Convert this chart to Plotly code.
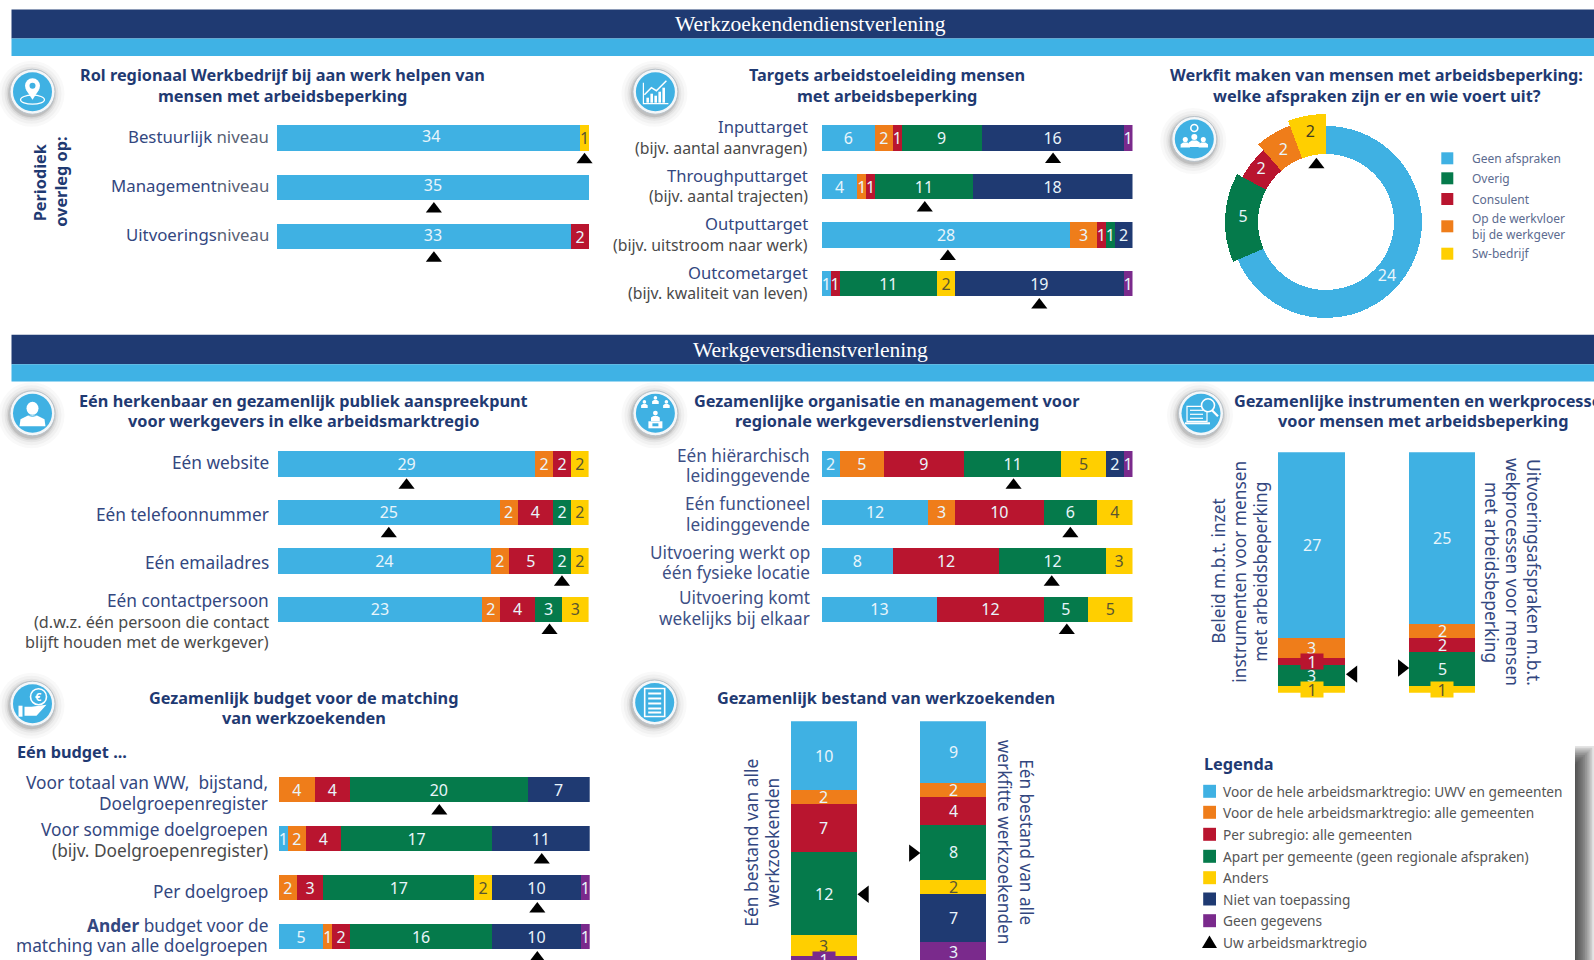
import plotly.graph_objects as go

W, H = 1594, 960
FONT = "Noto Sans"
NAVY = "#1f3a72"
SLATE = "#33477f"
GRAY = "#4a4a4a"
COLORS = {"blue": "#3fb1e3", "orange": "#ef7d1a", "red": "#b9152f", "green": "#057a4b",
          "yellow": "#ffcf00", "navy": "#1f3a72", "purple": "#7a2a8c"}
NUM_LIGHT = "#e9f5fb"
NUM_DARK = "#5a5630"
TITLE_SIZE = 16.3

# ---------- data ----------
a_categories = ["<span style='color:#33477f'>Bestuurlijk</span> niveau",
                "<span style='color:#33477f'>Management</span>niveau",
                "<span style='color:#33477f'>Uitvoerings</span>niveau"]
a_blue = [34, 35, 33]
a_red = [0, 0, 2]
a_yellow = [1, 0, 0]
a_marker = [34.5, 17.6, 17.6]
a_blue_label_x = [17.3, 17.5, 17.5]

b_categories = ["Inputtarget<br>(bijv. aantal aanvragen)", "Throughputtarget<br>(bijv. aantal trajecten)",
                "Outputtarget<br>(bijv. uitstroom naar werk)", "Outcometarget<br>(bijv. kwaliteit van leven)"]
b_blue = [6, 4, 28, 1]
b_orange = [2, 1, 3, 0]
b_red = [1, 1, 1, 1]
b_green = [9, 11, 1, 11]
b_yellow = [0, 0, 0, 2]
b_navy = [16, 18, 2, 19]
b_purple = [1, 0, 0, 1]
b_marker = [26.05, 11.6, 14.2, 24.5]

c_labels = ["Geen afspraken", "Overig", "Consulent", "Op de werkvloer<br>bij de werkgever", "Sw-bedrijf"]
c_values = [24, 5, 2, 2, 2]
c_colors = ["blue", "green", "red", "orange", "yellow"]
c_outer_radius = [96, 101, 95, 103, 108]
c_label_radius = [82, 83, 83, 83, 90]
c_label_theta = [132, 272.6, 308.6, 329, 350]
c_marker_theta = 350.5
c_marker_radius = 58

d_categories = ["Eén website", "Eén telefoonnummer", "Eén emailadres",
                "Eén contactpersoon<br>(d.w.z. één persoon die contact<br>blijft houden met de werkgever)"]
d_blue = [29, 25, 24, 23]
d_orange = [2, 2, 2, 2]
d_red = [2, 4, 5, 4]
d_green = [0, 2, 2, 3]
d_yellow = [2, 2, 2, 3]
d_marker = [14.5, 12.5, 32, 30.6]

e_categories = ["Eén hiërarchisch<br>leidinggevende", "Eén functioneel<br>leidinggevende",
                "Uitvoering werkt op<br>één fysieke locatie", "Uitvoering komt<br>wekelijks bij elkaar"]
e_blue = [2, 12, 8, 13]
e_orange = [5, 3, 0, 0]
e_red = [9, 10, 12, 12]
e_green = [11, 6, 12, 5]
e_yellow = [5, 4, 3, 5]
e_navy = [2, 0, 0, 0]
e_purple = [1, 0, 0, 0]
e_marker = [21.6, 28, 25.9, 27.6]

f_blue = [27, 25]
f_orange = [3, 2]
f_red = [1, 2]
f_green = [3, 5]
f_yellow = [1, 1]
f_marker = [32.3, 31.4]

g_categories = ["Voor totaal van WW,  bijstand,<br>Doelgroepenregister",
                "Voor sommige doelgroepen<br>(bijv. Doelgroepenregister)",
                "Per doelgroep",
                "<b>Ander</b> budget voor de<br>matching van alle doelgroepen"]
g_blue = [0, 1, 0, 5]
g_orange = [4, 2, 2, 1]
g_red = [4, 4, 3, 2]
g_green = [20, 17, 17, 16]
g_yellow = [0, 0, 2, 0]
g_navy = [7, 11, 10, 10]
g_purple = [0, 0, 1, 1]
g_marker = [18.06, 29.6, 29.1, 29.1]

h_blue = [10, 9]
h_orange = [2, 2]
h_red = [7, 4]
h_green = [12, 8]
h_yellow = [3, 2]
h_navy = [0, 7]
h_purple = [1, 3]
h_marker = [25.07, 19.1]

legend_labels = ["Voor de hele arbeidsmarktregio: UWV en gemeenten", "Voor de hele arbeidsmarktregio: alle gemeenten",
                 "Per subregio: alle gemeenten", "Apart per gemeente (geen regionale afspraken)", "Anders",
                 "Niet van toepassing", "Geen gegevens"]
legend_colors = ["blue", "orange", "red", "green", "yellow", "navy", "purple"]

fig = go.Figure()
shapes, annotations = [], []
axis_no = [0]


def px(x):
    return x / W


def py(y):
    return 1 - y / H


def note(x, y, text, size=16, color=NAVY, anchor="center", angle=0, bold=False, family=FONT):
    annotations.append(dict(x=px(x), y=py(y), xref="paper", yref="paper", text=f"<b>{text}</b>" if bold else text,
                            showarrow=False, xanchor=anchor, yanchor="middle", textangle=angle,
                            font=dict(family=family, size=size, color=color), borderpad=0))


def multiline(x, y, text, gap, size=16, color=NAVY, anchor="center", bold=False, rest_color=None, rest_size=None):
    lines = text.split("<br>")
    for i, line in enumerate(lines):
        c = color if i == 0 or rest_color is None else rest_color
        s = size if i == 0 or rest_size is None else rest_size
        note(x, y + (i - (len(lines) - 1) / 2) * gap, line, s, c, anchor, 0, bold)


def rotated(x, y, text, gap, angle, size=16, color=SLATE, bold=False):
    lines = text.split("<br>")
    sign = 1 if angle < 0 else -1
    for i, line in enumerate(lines):
        note(x + sign * (i - (len(lines) - 1) / 2) * gap, y, line, size, color, "center", angle, bold)


def rect(x0, y0, x1, y1, color, layer="below"):
    shapes.append(dict(type="rect", xref="paper", yref="paper", x0=px(x0), x1=px(x1), y0=py(y1), y1=py(y0),
                       fillcolor=color, line=dict(width=0), layer=layer))


def ellipse(cx, cy, rx, ry, fill=None, line=None, lw=1.5):
    shapes.append(dict(type="circle", xref="paper", yref="paper", x0=px(cx - rx), x1=px(cx + rx),
                       y0=py(cy + ry), y1=py(cy - ry), fillcolor=fill or "rgba(0,0,0,0)",
                       line=dict(width=lw if line else 0, color=line or "rgba(0,0,0,0)"), layer="above"))


def poly(points, fill="white", line=None, lw=1.5, close=True):
    d = "M" + " L".join(f"{px(a):.5f},{py(b):.5f}" for a, b in points) + (" Z" if close else "")
    shapes.append(dict(type="path", path=d, xref="paper", yref="paper", fillcolor=fill if close else "rgba(0,0,0,0)",
                       line=dict(width=lw if line else 0, color=line or "rgba(0,0,0,0)"), layer="above"))


def person(cx, cy, s=1.0, color="white"):
    ellipse(cx, cy - 4 * s, 3 * s, 3 * s, color)
    poly([(cx - 5.5 * s, cy + 6 * s), (cx - 5.5 * s, cy + 1.5 * s), (cx - 2.5 * s, cy - .5 * s), (cx + 2.5 * s, cy - .5 * s),
          (cx + 5.5 * s, cy + 1.5 * s), (cx + 5.5 * s, cy + 6 * s)], color)


def icon(cx, cy, kind):
    blue = COLORS["blue"]
    for r, a in ((33, .03), (30, .04), (27, .06), (25, .09), (23.5, .14)):
        ellipse(cx - 1, cy + 2, r, r, f"rgba(60,60,60,{a})")
    ellipse(cx, cy, 22.5, 22.5, "#f4f7f9", "#b9c2c9", 1)
    ellipse(cx, cy, 19.5, 19.5, blue)
    if kind == "pin":
        ellipse(cx, cy + 8, 12, 4.5, None, "white", 1.2)
        ellipse(cx, cy - 6, 7.5, 7.5, "white")
        poly([(cx - 6.5, cy - 2), (cx + 6.5, cy - 2), (cx, cy + 8)], "white")
        ellipse(cx, cy - 6, 3, 3, blue)
    elif kind == "chart":
        for dx, top in ((-9, 6), (-5, 2), (-1, 4), (3, 0), (7, -4)):
            poly([(cx + dx, cy + 11), (cx + dx, cy + top), (cx + dx + 2.6, cy + top), (cx + dx + 2.6, cy + 11)], "white")
        poly([(cx - 12, cy - 9), (cx - 12, cy + 12), (cx + 13, cy + 12)], None, "white", 1.2, False)
        poly([(cx - 11, cy + 3), (cx - 4, cy - 4), (cx + 1, cy - 1), (cx + 11, cy - 11)], None, "white", 1.5, False)
    elif kind == "team":
        ellipse(cx, cy - 11, 3.5, 3.5, None, "white", 1.6)
        person(cx - 9, cy + 4, .85)
        person(cx + 9, cy + 4, .85)
        person(cx, cy + 2, 1.0)
        rect(cx - 14, cy + 8.5, cx + 14, cy + 9.5, blue, "above")
    elif kind == "agent":
        ellipse(cx, cy - 5, 6, 6.5, "white")
        poly([(cx - 13, cy + 13), (cx - 12, cy + 6), (cx - 4, cy + 2), (cx + 4, cy + 2), (cx + 12, cy + 6), (cx + 13, cy + 13)], "white")
        ellipse(cx, cy - 5, 7.5, 8, None, blue, 1)
    elif kind == "network":
        person(cx - 11, cy - 9, .6)
        person(cx, cy - 13, .6)
        person(cx + 11, cy - 9, .6)
        person(cx, cy + 3, .8)
        poly([(cx - 7, cy + 8), (cx + 7, cy + 8), (cx + 7, cy + 15), (cx - 7, cy + 15)], "white")
        poly([(cx - 3, cy + 10), (cx + 3, cy + 10), (cx + 3, cy + 13), (cx - 3, cy + 13)], blue)
    elif kind == "search":
        poly([(cx - 14, cy - 7), (cx + 6, cy - 7), (cx + 6, cy + 8), (cx - 14, cy + 8)], None, "white", 1.2)
        for dy in (-3, 1, 5):
            poly([(cx - 11, cy + dy), (cx + 2, cy + dy)], None, "white", 1.2, False)
        rect(cx - 16, cy + 9, cx + 9, cy + 11, "white", "above")
        ellipse(cx + 7, cy - 8, 6.5, 6.5, blue, "white", 1.6)
        poly([(cx + 11, cy - 3), (cx + 17, cy + 3)], None, "white", 2.2, False)
    elif kind == "euro":
        ellipse(cx + 6, cy - 7, 8, 8, None, "white", 1.6)
        note(cx + 6, cy - 7, "€", 11, "white", bold=True)
        rect(cx - 14, cy + 2, cx - 10, cy + 13, "white", "above")
        poly([(cx - 8, cy + 3), (cx - 1, cy + 3), (cx + 14, cy + 1), (cx + 4, cy + 12), (cx - 8, cy + 12)], "white")
    elif kind == "list":
        poly([(cx - 10, cy - 14), (cx + 10, cy - 14), (cx + 10, cy + 14), (cx - 10, cy + 14)], None, "white", 1.6)
        for dy in (-9, -4, 1, 6, 10):
            poly([(cx - 6.5, cy + dy), (cx + 6.5, cy + dy)], None, "white", 2, False)


def new_axes(x0, x1, y0, y1):
    axis_no[0] += 1
    n = axis_no[0]
    common = dict(visible=False, showgrid=False, zeroline=False, fixedrange=True)
    fig.layout[f"xaxis{n}"] = dict(domain=[px(x0), px(x1)], anchor=f"y{n}", **common)
    fig.layout[f"yaxis{n}"] = dict(domain=[py(y1), py(y0)], anchor=f"x{n}", **common)
    return f"x{n}", f"y{n}", n


def hbar_panel(categories, series, marker, x0, x1, c0, pitch, thick, right, size, gap, shifts, sub_gray,
               total=35, base_color=SLATE, sub_size=None, blue_label_x=None):
    n = len(categories)
    top = c0 - pitch / 2
    bottom = min(c0 + pitch * (n - .5), H)
    xa, ya, no = new_axes(x0, x1, top, bottom)
    fig.layout[f"xaxis{no}"].range = [0, total]
    fig.layout[f"yaxis{no}"].range = [(bottom - c0) / pitch, -.5]
    ys = list(range(n))
    for key, vals in series:
        own_text = key == "blue" and blue_label_x is not None
        fig.add_trace(go.Bar(orientation="h", y=ys, x=vals, width=thick / pitch, xaxis=xa, yaxis=ya,
                             marker=dict(color=COLORS[key], line=dict(width=0)),
                             text=["" if own_text or not v else str(v) for v in vals], textposition="inside", textangle=0,
                             insidetextanchor="middle", constraintext="none", cliponaxis=False,
                             insidetextfont=dict(family=FONT, size=16, color=NUM_DARK if key == "yellow" else NUM_LIGHT),
                             hoverinfo="skip"))
        if own_text:
            fig.add_trace(go.Scatter(x=blue_label_x, y=ys, xaxis=xa, yaxis=ya, mode="text", text=[str(v) for v in vals],
                                     textfont=dict(family=FONT, size=16, color=NUM_LIGHT), hoverinfo="skip"))
    fig.add_trace(go.Scatter(x=marker, y=[i + .44 for i in ys], xaxis=xa, yaxis=ya, mode="markers", cliponaxis=False,
                             marker=dict(symbol="triangle-up", size=14, color="black"), hoverinfo="skip"))
    for i, cat in enumerate(categories):
        multiline(right, c0 + i * pitch + shifts[i], cat, gap, size, base_color, "right",
                  rest_color=GRAY if sub_gray[i] else None, rest_size=sub_size)


def vbar_panel(series, marker, x_left, x_right, bar_w, top, scale, total=35):
    pitch = x_right - x_left
    ax0, ax1 = x_left - pitch / 2, x_right + pitch / 2
    bottom = min(top + scale * total, H)
    xa, ya, no = new_axes(ax0, ax1, top, bottom)
    fig.layout[f"xaxis{no}"].range = [-.5, 1.5]
    fig.layout[f"yaxis{no}"].range = [(bottom - top) / scale, 0]
    cum = [0, 0]
    for key, vals in series:
        fig.add_trace(go.Bar(x=[0, 1], y=vals, width=bar_w / pitch, xaxis=xa, yaxis=ya,
                             marker=dict(color=COLORS[key], line=dict(width=0)), hoverinfo="skip"))
        for j, v in enumerate(vals):
            if v:
                tab = v == 1
                annotations.append(dict(x=j, y=cum[j] + v / 2, xref=xa, yref=ya, text=str(v), showarrow=False,
                                        font=dict(family=FONT, size=16, color=NUM_DARK if key == "yellow" else NUM_LIGHT),
                                        bgcolor=COLORS[key] if tab else "rgba(0,0,0,0)", width=22 if tab else None,
                                        height=15 if tab else None, borderpad=0, valign="middle"))
            cum[j] += v
    for j, sym, off in ((0, "triangle-left", .32), (1, "triangle-right", -.31)):
        fig.add_trace(go.Scatter(x=[j + off], y=[marker[j]], xaxis=xa, yaxis=ya, mode="markers", cliponaxis=False,
                                 marker=dict(symbol=sym, size=15, color="black"), hoverinfo="skip"))


# ---------- section bands ----------
for y0, y1, y2, label, ty in ((9.5, 38.5, 56, "Werkzoekendendienstverlening", 24),
                              (334.7, 364.3, 381.5, "Werkgeversdienstverlening", 350)):
    rect(11.5, y0, W, y1, "#1f3a72")
    rect(11.5, y1, W, y2, "#3fb2e5")
    note(810.5, ty, label, 21.5, "white", family="Liberation Serif")

# ---------- panel A ----------
hbar_panel(a_categories, [("blue", a_blue), ("red", a_red), ("yellow", a_yellow)], a_marker,
           277, 589, 138.2, 49.15, 25.5, 270, 16.8, 21, [-1.5, -1.5, -2], [False] * 3, base_color="#5a6275",
           blue_label_x=a_blue_label_x)
multiline(282, 85.5, "Rol regionaal Werkbedrijf bij aan werk helpen van<br>mensen met arbeidsbeperking", 21, TITLE_SIZE, NAVY, bold=True)
rotated(50.5, 182, "Periodiek<br>overleg op:", 20.5, -90, 16.3, NAVY, True)
icon(32.5, 91.7, "pin")

# ---------- panel B ----------
hbar_panel(b_categories, [("blue", b_blue), ("orange", b_orange), ("red", b_red), ("green", b_green),
                          ("yellow", b_yellow), ("navy", b_navy), ("purple", b_purple)], b_marker,
           821.8, 1132.5, 138.2, 48.5, 25.5, 808.5, 16.6, 20.7, [-1, -1, -1, -1], [True] * 4, sub_size=15.8)
multiline(886.6, 85.5, "Targets arbeidstoeleiding mensen<br>met arbeidsbeperking", 21, TITLE_SIZE, NAVY, bold=True)
icon(655.4, 91.7, "chart")

# ---------- panel C ----------
fig.layout.polar = dict(domain=dict(x=[px(1326 - 110), px(1326 + 110)], y=[py(222 + 110), py(222 - 110)]),
                        bgcolor="rgba(0,0,0,0)", radialaxis=dict(visible=False, range=[0, 110]),
                        angularaxis=dict(visible=False, rotation=90, direction="clockwise"))
c_total = sum(c_values)
INNER = 68
start = 0
for v, key, outer in zip(c_values, c_colors, c_outer_radius):
    span = v / c_total * 360
    fig.add_trace(go.Barpolar(r=[outer - INNER], base=[INNER], theta=[start + span / 2], width=[span],
                              marker=dict(color=COLORS[key], line=dict(width=0)), hoverinfo="skip"))
    start += span
fig.add_trace(go.Scatterpolar(r=c_label_radius, theta=c_label_theta, mode="text", text=[str(v) for v in c_values],
                              textfont=dict(family=FONT, size=16, color=[NUM_LIGHT] * 4 + ["#3f3c22"]), hoverinfo="skip"))
fig.add_trace(go.Scatterpolar(r=[c_marker_radius], theta=[c_marker_theta], mode="markers",
                              marker=dict(symbol="triangle-up", size=14, color="black"), hoverinfo="skip"))
for label, key, yy in zip(c_labels, c_colors, (158.3, 178.3, 199, 226.3, 253.7)):
    rect(1441.3, yy - 6, 1453.3, yy + 6, COLORS[key])
    multiline(1471, yy, label, 15.5, 12, "#5c6b8f", "left")
multiline(1376.7, 85.5, "Werkfit maken van mensen met arbeidsbeperking:<br>welke afspraken zijn er en wie voert uit?", 21, TITLE_SIZE, NAVY, bold=True)
icon(1194.3, 139, "team")

# ---------- panel D ----------
hbar_panel(d_categories, [("blue", d_blue), ("orange", d_orange), ("red", d_red), ("green", d_green), ("yellow", d_yellow)],
           d_marker, 277.8, 588.6, 464, 48.43, 25.5, 269.5, 17.3, 20.7, [-1.5, 2.2, 2, 12.4], [False, False, False, True],
           sub_size=16.2)
multiline(303, 411, "Eén herkenbaar en gezamenlijk publiek aanspreekpunt<br>voor werkgevers in elke arbeidsmarktregio", 20.7, TITLE_SIZE, NAVY, bold=True)
icon(32.5, 413.3, "agent")

# ---------- panel E ----------
hbar_panel(e_categories, [("blue", e_blue), ("orange", e_orange), ("red", e_red), ("green", e_green), ("yellow", e_yellow),
                          ("navy", e_navy), ("purple", e_purple)],
           e_marker, 821.8, 1132.5, 464, 48.43, 25.5, 811.5, 17.2, 20.7, [1.5, 1.7, 1.5, -1], [False] * 4, base_color="#3d4f85")
multiline(886.6, 411, "Gezamenlijke organisatie en management voor<br>regionale werkgeversdienstverlening", 20.7, TITLE_SIZE, NAVY, bold=True)
icon(655.4, 413.3, "network")

# ---------- panel F ----------
vbar_panel([("blue", f_blue), ("orange", f_orange), ("red", f_red), ("green", f_green), ("yellow", f_yellow)],
           f_marker, 1311.7, 1442.2, 66.5, 452.3, 6.87)
multiline(1422.5, 411, "Gezamenlijke instrumenten en werkprocessen<br>voor mensen met arbeidsbeperking", 20.7, TITLE_SIZE, NAVY, bold=True)
rotated(1240, 571.7, "Beleid m.b.t. inzet<br>instrumenten voor mensen<br>met arbeidsbeperking", 21, -90, 17.3)
rotated(1513, 572, "Uitvoeringsafspraken m.b.t.<br>wekprocessen voor mensen<br>met arbeidsbeperking", 21, 90, 17.4)
icon(1201, 413.3, "search")

# ---------- panel G ----------
hbar_panel(g_categories, [("blue", g_blue), ("orange", g_orange), ("red", g_red), ("green", g_green), ("yellow", g_yellow),
                          ("navy", g_navy), ("purple", g_purple)],
           g_marker, 279, 589.7, 789.5, 49, 25.5, 269, 17.3, 20.7, [3.2, 1.5, 3.5, -1], [False, True, False, False])
multiline(303.5, 708.2, "Gezamenlijk budget voor de matching<br>van werkzoekenden", 20.5, TITLE_SIZE, NAVY, bold=True)
note(16, 752, "Eén budget ...", 16.3, NAVY, "left", bold=True)
icon(32.5, 703.7, "euro")

# ---------- panel H ----------
vbar_panel([("blue", h_blue), ("orange", h_orange), ("red", h_red), ("green", h_green), ("yellow", h_yellow),
            ("navy", h_navy), ("purple", h_purple)], h_marker, 823.5, 953, 66, 721.3, 6.9)
note(886.3, 698, "Gezamenlijk bestand van werkzoekenden", TITLE_SIZE, NAVY, bold=True)
rotated(761, 842.5, "Eén bestand van alle<br>werkzoekenden", 21.7, -90, 17.4)
rotated(1016, 842, "Eén bestand van alle<br>werkfitte werkzoekenden", 21.7, 90, 17.2)
icon(654.7, 702.5, "list")

# ---------- legend box ----------
for k in range(11):
    rect(1575, 746 + k * 1.8, W - k * 1.8, H, "rgba(30,30,30,.12)")
note(1202.5, 763.5, "Legenda", 16.3, NAVY, "left", bold=True)
for label, key, yy in zip(legend_labels, legend_colors, (791.3, 812.3, 834.3, 856.3, 877.7, 899, 920.7)):
    rect(1203.2, yy - 6.5, 1216, yy + 6.5, COLORS[key])
    note(1221.5, yy, label, 13.7, "#555555", "left")
poly([(1202, 948), (1209.5, 935.5), (1217, 948)], "black")
note(1221.5, 942.3, "Uw arbeidsmarktregio", 13.7, "#555555", "left")

fig.update_layout(width=W, height=H, margin=dict(l=0, r=0, t=0, b=0, pad=0), autosize=False, barmode="stack",
                  paper_bgcolor="white", plot_bgcolor="rgba(0,0,0,0)", showlegend=False, hovermode=False,
                  shapes=shapes, annotations=annotations, font=dict(family=FONT))

fig.write_html("out.html", config=dict(displayModeBar=False),
               post_script="document.body.style.margin='0';document.body.style.overflow='hidden';")
